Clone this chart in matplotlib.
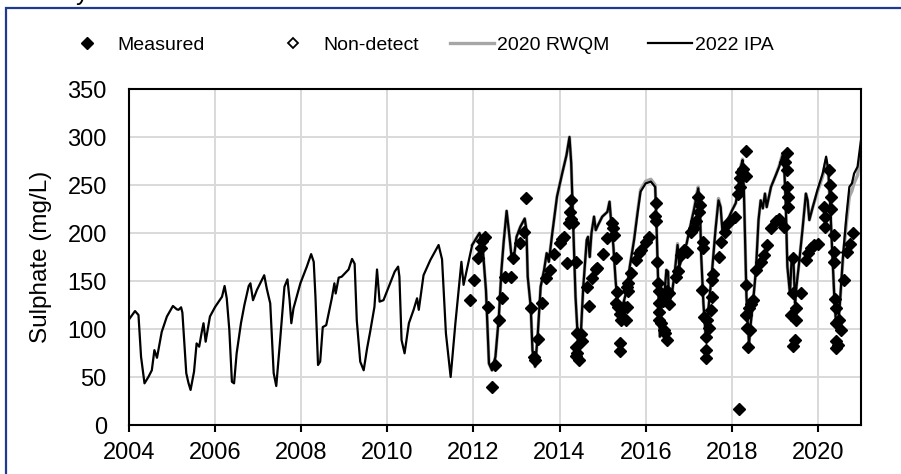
import matplotlib

matplotlib.use("Agg")

import matplotlib.pyplot as plt
from matplotlib.patches import Rectangle

plt.rcParams["font.family"] = ["Liberation Sans", "DejaVu Sans"]

# 2022 IPA model (decimal year, mg/L)
IPA_YEARS = [
    2004.00, 2004.14, 2004.22, 2004.28, 2004.36, 2004.45, 2004.53, 2004.59, 2004.65, 2004.76,
    2004.88, 2005.02, 2005.11, 2005.15, 2005.21, 2005.24, 2005.33, 2005.38, 2005.43, 2005.51,
    2005.57, 2005.63, 2005.69, 2005.73, 2005.78, 2005.88, 2006.00, 2006.16, 2006.22, 2006.27,
    2006.33, 2006.39, 2006.44, 2006.50, 2006.60, 2006.68, 2006.78, 2006.82, 2006.88, 2006.97,
    2007.14, 2007.20, 2007.28, 2007.36, 2007.42, 2007.51, 2007.61, 2007.68, 2007.73, 2007.77,
    2007.82, 2007.98, 2008.13, 2008.23, 2008.29, 2008.33, 2008.39, 2008.44, 2008.50, 2008.58,
    2008.64, 2008.71, 2008.77, 2008.80, 2008.87, 2008.94, 2009.10, 2009.18, 2009.24, 2009.29,
    2009.37, 2009.45, 2009.53, 2009.60, 2009.70, 2009.76, 2009.82, 2009.91, 2010.17, 2010.25,
    2010.28, 2010.33, 2010.40, 2010.50, 2010.61, 2010.69, 2010.73, 2010.84, 2011.00, 2011.19,
    2011.27, 2011.36, 2011.47, 2011.58, 2011.72, 2011.77, 2011.97,
    2012.14, 2012.20, 2012.29, 2012.36, 2012.43, 2012.51, 2012.59, 2012.65, 2012.70, 2012.77,
    2012.82, 2012.88, 2012.94, 2013.00, 2013.09, 2013.19, 2013.23, 2013.26, 2013.33, 2013.37,
    2013.43, 2013.49, 2013.56, 2013.64, 2013.70, 2013.75, 2013.83, 2013.94, 2014.06, 2014.16,
    2014.23, 2014.27, 2014.32, 2014.37, 2014.43, 2014.49, 2014.55, 2014.63, 2014.66, 2014.70,
    2014.74, 2014.80, 2014.84, 2014.89, 2014.99, 2015.11, 2015.16, 2015.20, 2015.25, 2015.30,
    2015.36, 2015.42, 2015.48, 2015.56, 2015.63, 2015.73, 2015.81, 2015.88, 2016.00, 2016.12,
    2016.22, 2016.25, 2016.29, 2016.33, 2016.37, 2016.43, 2016.48, 2016.52, 2016.54, 2016.62,
    2016.68, 2016.74, 2016.78, 2016.85, 2016.95, 2017.05, 2017.12, 2017.18, 2017.22, 2017.26,
    2017.29, 2017.34, 2017.40, 2017.46, 2017.53, 2017.62, 2017.69, 2017.74, 2017.78, 2017.85,
    2017.94, 2018.01, 2018.09, 2018.15, 2018.21, 2018.25, 2018.28, 2018.31, 2018.34, 2018.37,
    2018.40, 2018.44, 2018.49, 2018.56, 2018.62, 2018.67, 2018.72, 2018.77, 2018.81, 2018.91,
    2019.02, 2019.10, 2019.18, 2019.21, 2019.25, 2019.29, 2019.35, 2019.39, 2019.43, 2019.47,
    2019.50, 2019.56, 2019.64, 2019.72, 2019.76, 2019.80, 2019.88, 2019.99, 2020.11, 2020.19,
    2020.24, 2020.28, 2020.33, 2020.38, 2020.42, 2020.46, 2020.51, 2020.58, 2020.66, 2020.73,
    2020.79, 2020.84, 2020.92, 2021.00,
]
IPA_VALUES = [
    110, 118.7, 114.6, 71, 43.4, 50, 57, 78, 70, 97,
    113, 124, 120.5, 120, 122.6, 117, 54, 44, 36.5, 55.5,
    85, 81.6, 97, 106, 86.8, 113, 123, 133.6, 144.8, 132,
    99, 45, 43.4, 74.7, 106, 125, 144.8, 147.6, 130, 140.6,
    156, 142, 126.7, 54, 40.6, 88.5, 144, 151.7, 130, 106,
    121.5, 147.6, 165, 178, 170, 133.7, 62.5, 66, 102, 104,
    117, 132, 147.6, 137, 153.5, 154.5, 162, 173, 168, 109,
    66, 57, 80, 97, 123, 162, 128.5, 130, 159.7, 165,
    154.5, 88.5, 74.7, 106, 120, 132, 120, 156, 172, 187.5,
    172.6, 95.5, 50, 106, 170, 146, 187.5,
    200, 192.7, 140.6, 64, 57, 71, 113, 161.5, 190, 223,
    203, 177, 175, 196, 206.6, 215, 203, 154.5, 123, 78,
    60.7, 92, 144, 161.5, 179, 170, 199.7, 238, 262, 281,
    300, 272.6, 203, 133.7, 85, 92, 144, 192.7, 196, 175,
    199.7, 217, 203, 208, 217, 222, 232.6, 210, 185.7, 151,
    120, 120, 126.7, 140.6, 165, 192.7, 220.5, 243, 251.7, 253.5,
    248, 210, 147.6, 92, 130, 133.6, 161.5, 159.7, 126.7, 140.6,
    161.5, 187.5, 165, 175, 189, 210, 224, 237.8, 246.5, 224,
    175, 126.7, 88.5, 123, 154.5, 203, 234, 227, 203, 210,
    217, 224, 231, 244.8, 269, 276, 244.8, 189, 133.6, 106,
    85, 106, 126.7, 161.5, 213.5, 234, 225.7, 241, 227, 248,
    260, 269, 281, 274, 234, 165, 137, 173.6, 172, 126.7,
    144, 168, 203, 241, 234, 213.5, 227, 245, 262, 279.5,
    265.6, 234, 182, 133.6, 106, 99, 126.7, 175, 217, 248,
    251.7, 262, 269, 297,
]

# 2020 RWQM model, only distinguishable from 2012 onwards
RWQM_YEARS = [
    2011.97, 2012.14, 2012.20, 2012.29, 2012.36, 2012.43, 2012.51, 2012.59, 2012.65, 2012.70,
    2012.77, 2012.82, 2012.88, 2012.94, 2013.00, 2013.09, 2013.19, 2013.23, 2013.26, 2013.33,
    2013.37, 2013.43, 2013.49, 2013.56, 2013.64, 2013.70, 2013.75, 2013.83, 2013.94, 2014.06,
    2014.16, 2014.23, 2014.27, 2014.32, 2014.37, 2014.43, 2014.49, 2014.55, 2014.63, 2014.66,
    2014.70, 2014.74, 2014.80, 2014.84, 2014.89, 2014.99, 2015.11, 2015.16, 2015.20, 2015.25,
    2015.30, 2015.36, 2015.42, 2015.48, 2015.56, 2015.63, 2015.73, 2015.81, 2015.88, 2016.00,
    2016.12, 2016.22, 2016.25, 2016.29, 2016.33, 2016.37, 2016.43, 2016.48, 2016.52, 2016.54,
    2016.62, 2016.68, 2016.74, 2016.78, 2016.85, 2016.95, 2017.05, 2017.12, 2017.18, 2017.22,
    2017.26, 2017.29, 2017.34, 2017.40, 2017.46, 2017.53, 2017.62, 2017.69, 2017.74, 2017.78,
    2017.85, 2017.94, 2018.01, 2018.09, 2018.15, 2018.21, 2018.25, 2018.28, 2018.31, 2018.34,
    2018.37, 2018.40, 2018.44, 2018.49, 2018.56, 2018.62, 2018.67, 2018.72, 2018.77, 2018.81,
    2018.91, 2019.02, 2019.10, 2019.18, 2019.21, 2019.25, 2019.29, 2019.35, 2019.39, 2019.43,
    2019.47, 2019.50, 2019.56, 2019.64, 2019.72, 2019.76, 2019.80, 2019.88, 2019.99, 2020.11,
    2020.19, 2020.24, 2020.28, 2020.33, 2020.38, 2020.42, 2020.46, 2020.51, 2020.58, 2020.66,
    2020.73, 2020.79, 2020.84, 2020.92, 2021.00,
]
RWQM_VALUES = [
    187.5, 200, 192.7, 140.6, 64, 57, 71, 113, 161.5, 190,
    223, 203, 177, 175, 196, 206.6, 215, 203, 154.5, 123,
    78, 60.7, 92, 144, 161.5, 179, 170, 199.7, 238, 262,
    281, 300, 272.6, 203, 133.7, 85, 92, 144, 192.7, 196,
    175, 199.7, 217, 203, 208, 217, 222, 232.6, 210, 185.7,
    151, 120, 120, 126.7, 140.6, 165, 193.5, 222, 245, 254,
    256, 250, 210, 147.6, 92, 130, 133.6, 161.5, 159.7, 126.7,
    140.6, 161.5, 189, 165, 175, 189, 210, 225, 240, 248,
    224, 175, 126.7, 88.5, 123, 154.5, 203, 236, 227, 203,
    210, 217, 224, 231, 245, 270, 277, 244.8, 189, 133.6,
    106, 85, 106, 126.7, 161.5, 213.5, 234, 225.7, 241, 227,
    248, 260, 270, 283, 276, 234, 165, 137, 173.6, 172,
    126.7, 144, 168, 203, 241, 234, 213.5, 227, 243, 259,
    276, 262, 232, 182, 133.6, 106, 99, 126.7, 172, 210,
    238, 244, 252, 260, 286,
]

# measured sulphate samples
MEASURED_YEARS = [
    2011.93, 2012.01, 2012.10, 2012.17, 2012.20, 2012.26, 2012.33, 2012.42, 2012.49, 2012.59,
    2012.66, 2012.73, 2012.86, 2012.92, 2013.09, 2013.17, 2013.23, 2013.34, 2013.40, 2013.42,
    2013.50, 2013.60, 2013.69, 2013.77, 2013.88, 2014.00, 2014.06, 2014.10, 2014.18, 2014.22,
    2014.25, 2014.26, 2014.27, 2014.30, 2014.37, 2014.37, 2014.39, 2014.41, 2014.41, 2014.45,
    2014.50, 2014.51, 2014.63, 2014.68, 2014.76, 2014.84, 2014.88, 2015.01, 2015.09, 2015.22,
    2015.25, 2015.26, 2015.30, 2015.30, 2015.33, 2015.35, 2015.40, 2015.40, 2015.40, 2015.43,
    2015.50, 2015.54, 2015.57, 2015.57, 2015.58, 2015.60, 2015.67, 2015.77, 2015.84, 2015.88,
    2016.00, 2016.07, 2016.22, 2016.23, 2016.24, 2016.27, 2016.29, 2016.30, 2016.30, 2016.30,
    2016.31, 2016.36, 2016.41, 2016.42, 2016.45, 2016.45, 2016.50, 2016.50, 2016.53, 2016.55,
    2016.70, 2016.76, 2016.81, 2016.88, 2016.95, 2017.05, 2017.12, 2017.17, 2017.22, 2017.24,
    2017.25, 2017.30, 2017.33, 2017.33, 2017.36, 2017.39, 2017.40, 2017.40, 2017.43, 2017.47,
    2017.51, 2017.53, 2017.55, 2017.57, 2017.70, 2017.76, 2017.83, 2017.90, 2018.07, 2018.14,
    2018.17, 2018.18, 2018.20, 2018.22, 2018.25, 2018.33, 2018.33, 2018.34, 2018.33, 2018.36,
    2018.38, 2018.40, 2018.42, 2018.45, 2018.49, 2018.56, 2018.67, 2018.74, 2018.81, 2018.91,
    2019.02, 2019.10, 2019.21, 2019.24, 2019.27, 2019.27, 2019.29, 2019.31, 2019.31, 2019.38,
    2019.41, 2019.41, 2019.43, 2019.47, 2019.48, 2019.50, 2019.60, 2019.72, 2019.77, 2019.84,
    2019.91, 2019.99, 2020.15, 2020.16, 2020.17, 2020.26, 2020.28, 2020.30, 2020.31, 2020.37,
    2020.37, 2020.37, 2020.39, 2020.41, 2020.42, 2020.42, 2020.42, 2020.46, 2020.50, 2020.53,
    2020.60, 2020.67, 2020.75, 2020.82,
]
MEASURED_VALUES = [
    130, 151, 173.6, 184, 192, 196, 123, 40, 62.5, 109,
    132, 154.5, 154.5, 174, 190, 201, 236, 121.5, 71, 68,
    90, 126.7, 152.8, 161.5, 178, 190, 193.4, 196, 169, 210,
    222, 234, 215, 210, 170, 81.6, 72, 95.5, 75, 67.7,
    95, 87, 144, 124, 152.8, 163, 164, 178, 194.5, 210,
    205, 198, 173.6, 126.7, 139, 123, 116, 85, 77, 109,
    123, 109, 144, 123, 140, 147.6, 158, 172, 179, 182,
    191, 196, 218, 231, 213, 170, 147.6, 127, 118, 109,
    140, 106, 129, 99, 95.5, 133, 89, 140, 126, 138,
    154.5, 160, 177, 182, 180, 201, 205, 213, 237.8, 222,
    229, 140.6, 191, 184, 113, 92, 78, 70, 109, 101,
    120, 133, 151, 157, 175, 191, 201, 210, 217, 241,
    17, 248, 257, 264, 267, 285, 259, 146, 115, 101,
    81.6, 122, 99, 126, 130, 161.5, 170, 177, 187, 205,
    213, 215, 206, 274, 283, 266, 248, 238, 227, 115,
    173.6, 137, 82, 88.5, 109, 122, 137, 172, 179, 184,
    187, 188.5, 227, 217, 206, 265.6, 250, 238, 225, 198,
    180, 170, 131, 80, 122, 106, 88, 83, 109, 99,
    151, 180, 189, 199.7,
]

# no non-detect samples in this record
NONDETECT_YEARS = []
NONDETECT_VALUES = []

X_TICKS = [2004, 2006, 2008, 2010, 2012, 2014, 2016, 2018, 2020]
Y_TICKS = [0, 50, 100, 150, 200, 250, 300, 350]

TICK_FONT = 17
LEGEND_FONT = 14

fig = plt.figure(figsize=(9.01, 4.74), dpi=100)
fig.patch.set_facecolor("white")
ax = fig.add_axes([129 / 901, 1 - 425 / 474, (861 - 129) / 901, (425 - 89) / 474])

ax.plot(RWQM_YEARS, RWQM_VALUES, color="#A6A6A6", linewidth=2.4, label="2020 RWQM", zorder=2)
ax.plot(IPA_YEARS, IPA_VALUES, color="black", linewidth=1.6, label="2022 IPA", zorder=3)
ax.plot(MEASURED_YEARS, MEASURED_VALUES, linestyle="none", marker="D", markersize=6.3,
        color="black", label="Measured", zorder=4)
ax.plot(NONDETECT_YEARS, NONDETECT_VALUES, linestyle="none", marker="D", markersize=5.5,
        markerfacecolor="white", markeredgecolor="black", markeredgewidth=1.3,
        label="Non-detect", zorder=4)

ax.set_xlim(2004, 2021)
ax.set_ylim(0, 350)
ax.set_xticks(X_TICKS)
ax.set_yticks(Y_TICKS)
ax.tick_params(axis="x", length=5, width=1.5, direction="out", labelsize=TICK_FONT, pad=7)
ax.tick_params(axis="y", length=0, labelsize=TICK_FONT, pad=16)
ax.set_ylabel("Sulphate (mg/L)", fontsize=17.5, labelpad=11)
ax.grid(color="#D9D9D9", linewidth=1.4)
ax.set_axisbelow(True)
for side in ["top", "right", "bottom", "left"]:
    ax.spines[side].set_color("black")
    ax.spines[side].set_linewidth(1.5)

# one legend entry per block, so each sits where the original places it
handles, labels = ax.get_legend_handles_labels()
legend_slots = [(2, 65, 0.45), (3, 271, 0.45), (0, 450, 0.15), (1, 648, 0.15)]
for idx, left_px, textpad in legend_slots:
    fig.legend(
        [handles[idx]],
        [labels[idx]],
        loc="center left",
        bbox_to_anchor=(left_px / 901, 1 - 45 / 474),
        frameon=False,
        fontsize=LEGEND_FONT,
        handlelength=2.25,
        handletextpad=textpad,
        borderpad=0,
        borderaxespad=0,
    )

# outer chart frame, cropped at the right and bottom of the picture
fig.patches.append(Rectangle((6 / 901, -0.1), 1.2, 1 - 8 / 474 + 0.1,
                             transform=fig.transFigure, fill=False,
                             edgecolor="#1F3A93", linewidth=1.6))
# tail of the cropped title above the frame
fig.text(82 / 901, 1.0, "y", fontsize=18, ha="center", va="baseline")

fig.savefig("out.png", dpi=100)
